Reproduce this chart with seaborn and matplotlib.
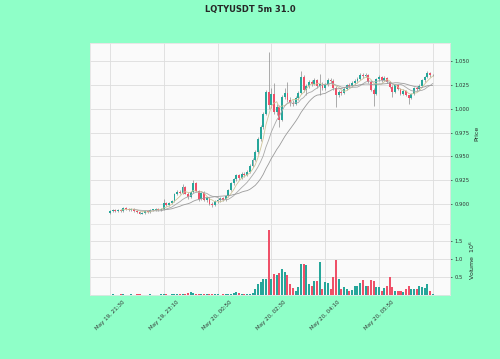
import numpy as np
import pandas as pd
import seaborn as sns
import matplotlib
matplotlib.use('Agg')
import matplotlib.pyplot as plt

# 5m candles, LQTYUSDT, 121 bars from May 19 21:30
opens = [0.891, 0.893, 0.894, 0.893, 0.894, 0.893, 0.896, 0.895, 0.894, 0.895,
         0.893, 0.892, 0.890, 0.891, 0.893, 0.892, 0.894, 0.894, 0.895, 0.894,
         0.895, 0.901, 0.899, 0.901, 0.903, 0.911, 0.913, 0.912, 0.918, 0.911,
         0.907, 0.913, 0.922, 0.914, 0.905, 0.912, 0.904, 0.906, 0.900, 0.899,
         0.903, 0.904, 0.906, 0.904, 0.908, 0.915, 0.922, 0.926, 0.930, 0.927,
         0.932, 0.930, 0.934, 0.940, 0.946, 0.955, 0.968, 0.981, 0.995, 1.018,
         1.004, 1.016, 0.997, 1.002, 0.988, 1.012, 1.017, 1.009, 1.006, 1.005,
         1.011, 1.017, 1.033, 1.020, 1.024, 1.028, 1.026, 1.030, 1.024, 1.026,
         1.022, 1.026, 1.030, 1.029, 1.022, 1.014, 1.018, 1.017, 1.021, 1.025,
         1.024, 1.027, 1.029, 1.031, 1.036, 1.034, 1.036, 1.028, 1.020, 1.016,
         1.031, 1.033, 1.030, 1.032, 1.028, 1.023, 1.018, 1.025, 1.021, 1.016,
         1.019, 1.014, 1.011, 1.016, 1.022, 1.021, 1.024, 1.030, 1.033, 1.038,
         1.035]
highs = [0.894, 0.895, 0.895, 0.895, 0.895, 0.897, 0.897, 0.896, 0.896, 0.896,
         0.894, 0.893, 0.892, 0.894, 0.894, 0.895, 0.895, 0.896, 0.896, 0.896,
         0.905, 0.902, 0.902, 0.904, 0.912, 0.915, 0.915, 0.921, 0.919, 0.913,
         0.914, 0.925, 0.923, 0.915, 0.913, 0.914, 0.907, 0.907, 0.902, 0.904,
         0.905, 0.907, 0.907, 0.909, 0.916, 0.923, 0.927, 0.931, 0.932, 0.934,
         0.934, 0.936, 0.942, 0.948, 0.957, 0.970, 0.983, 0.997, 1.020, 1.060,
         1.022, 1.027, 1.005, 1.004, 1.014, 1.022, 1.028, 1.012, 1.009, 1.013,
         1.019, 1.040, 1.035, 1.026, 1.030, 1.030, 1.032, 1.031, 1.037, 1.028,
         1.027, 1.032, 1.032, 1.031, 1.024, 1.020, 1.020, 1.023, 1.026, 1.027,
         1.029, 1.031, 1.033, 1.038, 1.038, 1.038, 1.037, 1.030, 1.022, 1.032,
         1.035, 1.034, 1.034, 1.033, 1.029, 1.025, 1.026, 1.026, 1.022, 1.021,
         1.020, 1.015, 1.017, 1.023, 1.024, 1.026, 1.031, 1.034, 1.040, 1.039,
         1.037]
lows = [0.890, 0.892, 0.892, 0.892, 0.892, 0.892, 0.894, 0.893, 0.893, 0.892,
        0.891, 0.889, 0.889, 0.890, 0.891, 0.891, 0.893, 0.893, 0.893, 0.893,
        0.894, 0.898, 0.898, 0.900, 0.902, 0.909, 0.910, 0.911, 0.910, 0.905,
        0.906, 0.912, 0.913, 0.903, 0.904, 0.903, 0.902, 0.899, 0.897, 0.898,
        0.901, 0.902, 0.903, 0.903, 0.907, 0.914, 0.920, 0.924, 0.925, 0.926,
        0.928, 0.929, 0.933, 0.939, 0.945, 0.953, 0.966, 0.979, 0.993, 1.000,
        1.001, 0.995, 0.993, 0.981, 0.987, 1.010, 1.007, 1.003, 1.003, 1.004,
        1.009, 1.016, 1.018, 1.015, 1.022, 1.024, 1.025, 1.022, 1.015, 1.020,
        1.020, 1.024, 1.027, 1.020, 1.002, 1.012, 1.015, 1.016, 1.020, 1.022,
        1.023, 1.025, 1.027, 1.030, 1.032, 1.033, 1.027, 1.019, 1.003, 1.015,
        1.029, 1.028, 1.029, 1.027, 1.022, 1.012, 1.017, 1.020, 1.015, 1.015,
        1.013, 1.005, 1.010, 1.015, 1.019, 1.020, 1.023, 1.028, 1.032, 1.033,
        1.034]
closes = [0.893, 0.894, 0.893, 0.894, 0.893, 0.896, 0.895, 0.894, 0.895, 0.893,
          0.892, 0.890, 0.891, 0.893, 0.892, 0.894, 0.894, 0.895, 0.894, 0.895,
          0.901, 0.899, 0.901, 0.903, 0.911, 0.913, 0.912, 0.918, 0.911, 0.907,
          0.913, 0.922, 0.914, 0.905, 0.912, 0.904, 0.906, 0.900, 0.899, 0.903,
          0.904, 0.906, 0.904, 0.908, 0.915, 0.922, 0.926, 0.930, 0.927, 0.932,
          0.930, 0.934, 0.940, 0.946, 0.955, 0.968, 0.981, 0.995, 1.018, 1.004,
          1.016, 0.997, 1.002, 0.988, 1.012, 1.017, 1.009, 1.006, 1.005, 1.011,
          1.017, 1.033, 1.020, 1.024, 1.028, 1.026, 1.030, 1.024, 1.026, 1.022,
          1.026, 1.030, 1.029, 1.022, 1.014, 1.018, 1.017, 1.021, 1.025, 1.024,
          1.027, 1.029, 1.031, 1.036, 1.034, 1.036, 1.028, 1.020, 1.016, 1.031,
          1.033, 1.030, 1.032, 1.028, 1.023, 1.018, 1.025, 1.021, 1.016, 1.019,
          1.014, 1.011, 1.016, 1.022, 1.021, 1.024, 1.030, 1.033, 1.038, 1.035,
          1.036]
# volume in millions
volumes = [0.01, 0.02, 0.01, 0.01, 0.02, 0.02, 0.01, 0.01, 0.02, 0.01,
           0.02, 0.02, 0.01, 0.01, 0.01, 0.02, 0.01, 0.01, 0.01, 0.02,
           0.03, 0.02, 0.01, 0.02, 0.03, 0.02, 0.02, 0.04, 0.03, 0.05,
           0.09, 0.05, 0.04, 0.03, 0.03, 0.02, 0.02, 0.03, 0.02, 0.02,
           0.02, 0.01, 0.02, 0.02, 0.03, 0.03, 0.05, 0.09, 0.05, 0.04,
           0.03, 0.02, 0.03, 0.05, 0.18, 0.30, 0.35, 0.44, 0.45, 1.80,
           0.44, 0.58, 0.55, 0.60, 0.72, 0.64, 0.56, 0.30, 0.20, 0.12,
           0.23, 0.85, 0.86, 0.83, 0.30, 0.26, 0.40, 0.40, 0.90, 0.17,
           0.35, 0.33, 0.17, 0.49, 0.97, 0.44, 0.17, 0.23, 0.17, 0.10,
           0.14, 0.24, 0.24, 0.32, 0.42, 0.26, 0.24, 0.42, 0.40, 0.21,
           0.21, 0.10, 0.20, 0.24, 0.50, 0.21, 0.12, 0.12, 0.10, 0.09,
           0.17, 0.26, 0.17, 0.17, 0.17, 0.24, 0.21, 0.19, 0.30, 0.10,
           0.03]
tick_pos = [0, 20, 40, 60, 80, 100, 120]
tick_labels = ['May 19, 21:30', 'May 19, 23:10', 'May 20, 00:50', 'May 20, 02:30',
               'May 20, 04:10', 'May 20, 05:50', '']
mav_windows = [5, 10, 20]
mav_colors = ['#cfc69a', '#a8a8a8', '#9a9a9a']

df = pd.DataFrame({'Open': opens, 'High': highs, 'Low': lows, 'Close': closes, 'Volume': volumes})
df['idx'] = np.arange(len(df))
df['dir'] = np.where(df['Close'] >= df['Open'], 'up', 'down')

up_c = '#26a69a'
down_c = '#ef5068'
bg = '#8fffc8'

sns.set_theme(style='whitegrid')
plt.rcParams['font.family'] = ['DejaVu Sans']

fig = plt.figure(figsize=(5, 3.59), dpi=100, facecolor=bg)
ax = fig.add_axes([0.18, 0.376, 0.72, 0.504])
axv = fig.add_axes([0.18, 0.178, 0.72, 0.198], sharex=ax)

for a in (ax, axv):
    a.set_facecolor('#fafafa')
    a.grid(True, color='#dddddd', lw=0.6)
    for s in a.spines.values():
        s.set_color('#e4e4e4')
        s.set_linewidth(0.6)

# candles
cols = df['dir'].map({'up': up_c, 'down': down_c})
ax.vlines(df['idx'], df['Low'], df['High'], color='#8a8a8a', lw=0.5, zorder=2)
ax.bar(df['idx'], (df['Close'] - df['Open']).abs().clip(lower=0.0006),
       bottom=df[['Open', 'Close']].min(axis=1), width=0.7, color=cols, lw=0, zorder=3)

# moving averages
for w, c in zip(mav_windows, mav_colors):
    ma = df['Close'].rolling(w).mean()
    sns.lineplot(x=df['idx'], y=ma, ax=ax, color=c, lw=0.6, zorder=4)

# volume
sns.barplot(data=df, x='idx', y='Volume', hue='dir', palette={'up': up_c, 'down': down_c},
            dodge=False, legend=False, width=0.75, saturation=1, ax=axv, linewidth=0)

ax.set_xlim(-7.4, 126.4)
ax.set_ylim(0.879, 1.069)
axv.set_ylim(0, 1.96)

ax.yaxis.tick_right()
ax.yaxis.set_label_position('right')
axv.yaxis.tick_right()
axv.yaxis.set_label_position('right')
ax.set_yticks([0.900, 0.925, 0.950, 0.975, 1.000, 1.025, 1.050])
ax.set_yticklabels(['0.900', '0.925', '0.950', '0.975', '1.000', '1.025', '1.050'])
axv.set_yticks([0.5, 1.0, 1.5])
axv.set_yticklabels(['0.5', '1.0', '1.5'])
ax.set_ylabel('Price', fontsize=4.5, labelpad=3)
axv.set_ylabel('Volume  $10^{6}$', fontsize=4.5, labelpad=3)
ax.set_xlabel('')
axv.set_xlabel('')

axv.set_xticks(tick_pos)
axv.set_xticklabels(tick_labels, rotation=45, ha='center')
axv.set_xlim(-7.4, 126.4)
ax.tick_params(axis='x', labelbottom=False, length=0)
for a in (ax, axv):
    a.tick_params(axis='y', labelsize=3.8, length=1.5, width=0.5, pad=2, colors='#333333')
axv.tick_params(axis='x', labelsize=4, length=1.5, width=0.5, pad=2, colors='#333333')
axv.grid(True, color='#dddddd', lw=0.6)

fig.suptitle('LQTYUSDT 5m 31.0', fontsize=6, fontweight='bold', x=0.5, y=0.985)

fig.savefig('out.png', dpi=100, facecolor=bg)
